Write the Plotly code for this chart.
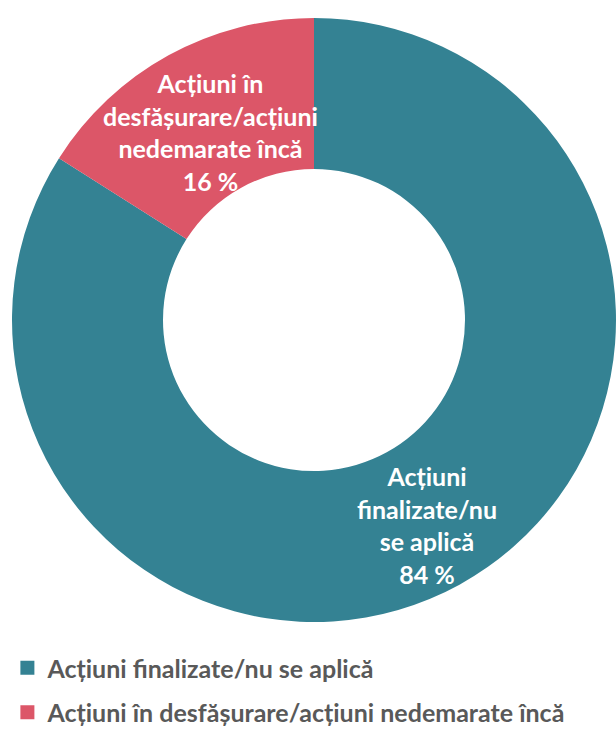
import math
import plotly.graph_objects as go

categories = ["Acțiuni finalizate/nu se aplică", "Acțiuni în desfășurare/acțiuni nedemarate încă"]
slice_text = ["Acțiuni<br>finalizate/nu<br>se aplică", "Acțiuni în<br>desfășurare/acțiuni<br>nedemarate încă"]
values = [84, 16]
colors = ["#348293", "#DC5668"]

W, H = 616, 729
# pie geometry in pixels
PX0, PX1, PY0, PY1 = 12, 616, 16, 624
CX, CY = (PX0 + PX1) / 2, (PY0 + PY1) / 2
R = min(PX1 - PX0, PY1 - PY0) / 2
LABEL_RADIUS = [0.775, 0.71]  # fraction of outer radius for each slice label

fig = go.Figure()
fig.add_trace(go.Pie(
    labels=categories,
    values=values,
    hole=0.5,
    sort=False,
    direction="clockwise",
    rotation=0,
    marker=dict(colors=colors, line=dict(width=0)),
    textinfo="none",
    hoverinfo="label+percent",
    domain=dict(x=[PX0 / W, PX1 / W], y=[1 - PY1 / H, 1 - PY0 / H]),
    showlegend=False,
))

# slice labels at mid-angle of each slice (clockwise from 12 o'clock)
total = sum(values)
cum = 0
for i, (v, t) in enumerate(zip(values, slice_text)):
    mid = (cum + v / 2) / total * 2 * math.pi
    cum += v
    rr = LABEL_RADIUS[i] * R
    px = CX + rr * math.sin(mid)
    py = CY - rr * math.cos(mid)
    fig.add_annotation(
        x=px / W, y=1 - py / H, xref="paper", yref="paper",
        text=f"{t}<br>{round(v / total * 100)} %",
        showarrow=False, align="center", xanchor="center", yanchor="middle",
        font=dict(family="Lato", size=25, color="white", weight="bold"),
    )

# legend entries, one group per category so the group gap sets row spacing
for i, (name, c) in enumerate(zip(categories, colors)):
    fig.add_trace(go.Scatter(
        x=[None], y=[None], mode="markers", name=name,
        marker=dict(symbol="square", size=14, color=c),
        legendgroup=f"g{i}", showlegend=True, hoverinfo="skip",
    ))

fig.update_layout(
    width=W, height=H,
    margin=dict(l=0, r=0, t=0, b=0, autoexpand=False),
    paper_bgcolor="white",
    plot_bgcolor="white",
    xaxis=dict(visible=False),
    yaxis=dict(visible=False),
    legend=dict(
        x=0.012, y=-6 / H, xanchor="left", yanchor="bottom",
        font=dict(family="Lato", size=25, color="#595959", weight="bold"),
        orientation="v", itemwidth=30, bgcolor="rgba(0,0,0,0)",
        tracegroupgap=9,
    ),
)
fig.write_html(
    "out.html",
    config={"displayModeBar": False},
    post_script="document.body.style.margin='0';document.documentElement.style.overflow='hidden';",
)
